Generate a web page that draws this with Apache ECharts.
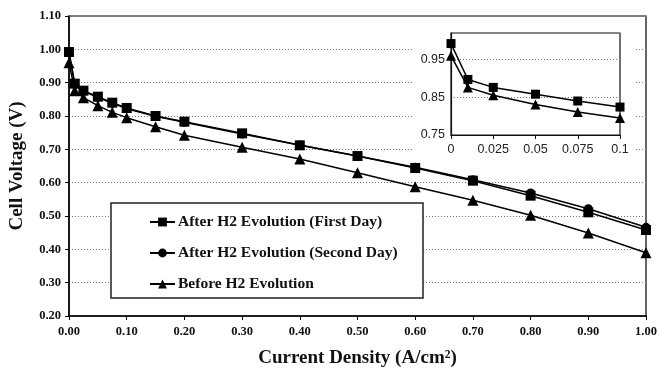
<!DOCTYPE html>
<html>
<head>
<meta charset="utf-8">
<script src="https://cdn.jsdelivr.net/npm/echarts@6/dist/echarts.min.js"></script>
<style>html,body{margin:0;padding:0;background:#fff}#c{width:661px;height:373px}</style>
</head>
<body>
<div id="c"></div>
<script>
var currentDensity = [0, 0.01, 0.025, 0.05, 0.075, 0.1, 0.15, 0.2, 0.3, 0.4, 0.5, 0.6, 0.7, 0.8, 0.9, 1.0];
var firstDay  = [0.992, 0.897, 0.876, 0.858, 0.840, 0.824, 0.800, 0.783, 0.748, 0.712, 0.680, 0.644, 0.606, 0.561, 0.511, 0.458];
var secondDay = [0.990, 0.894, 0.874, 0.856, 0.838, 0.822, 0.799, 0.781, 0.746, 0.713, 0.680, 0.646, 0.609, 0.569, 0.522, 0.466];
var beforeH2  = [0.960, 0.876, 0.855, 0.831, 0.811, 0.795, 0.768, 0.742, 0.706, 0.671, 0.630, 0.588, 0.547, 0.502, 0.449, 0.390];
var insetCount = 6; // inset shows 0 .. 0.1
var names = ['After H2 Evolution (First Day)', 'After H2 Evolution (Second Day)', 'Before H2 Evolution'];

function pairs(xs, ys, n) {
  var out = [];
  for (var i = 0; i < (n || xs.length); i++) out.push([xs[i], ys[i]]);
  return out;
}
var serif = '"Liberation Serif", "Times New Roman", serif';
var sans = '"Liberation Sans", Arial, sans-serif';

var chart = echarts.init(document.getElementById('c'));
chart.setOption({
  animation: false,
  backgroundColor: '#fff',
  grid: [
    {left: 69, right: 15, top: 16, bottom: 53, show: true, borderColor: '#000', borderWidth: 1.2, z: 0},
    {left: 451, right: 41, top: 33, bottom: 238, show: true, borderColor: '#111', borderWidth: 1.2, backgroundColor: 'transparent', z: 3}
  ],
  graphic: [
    {type: 'rect', z: 1, shape: {x: 412, y: 18, width: 224, height: 144}, style: {fill: '#fff', stroke: null}},
    {type: 'rect', z: 50, shape: {x: 111, y: 203, width: 312, height: 95}, style: {fill: '#fff', stroke: '#222', lineWidth: 1.5}}
  ],
  legend: {
    z: 60,
    left: 144, top: 209,
    orient: 'vertical',
    itemGap: 15,
    itemWidth: 25, itemHeight: 11,
    data: names,
    textStyle: {fontFamily: serif, fontWeight: 'bold', fontSize: 15.5, color: '#111', padding: [0, 0, 0, -2]},
    selectedMode: false
  },
  xAxis: [
    {
      type: 'value', gridIndex: 0, min: 0, max: 1, interval: 0.1,
      name: 'Current Density (A/cm²)', nameLocation: 'middle', nameGap: 33,
      nameTextStyle: {fontFamily: serif, fontWeight: 'bold', fontSize: 19, color: '#111'},
      axisLine: {lineStyle: {color: '#000', width: 1.5}},
      axisTick: {show: true, inside: false, length: 4, lineStyle: {color: '#000'}},
      axisLabel: {fontFamily: serif, fontWeight: 'bold', fontSize: 12.5, color: '#111', margin: 9,
        formatter: function (v) { return v.toFixed(2); }},
      splitLine: {show: false}
    },
    {
      type: 'value', gridIndex: 1, min: 0, max: 0.1, interval: 0.025, z: 3,
      axisLine: {lineStyle: {color: '#111', width: 1.2}},
      axisTick: {show: true, inside: false, length: 4, lineStyle: {color: '#111'}},
      axisLabel: {fontFamily: sans, fontSize: 12.5, color: '#222', margin: 8,
        formatter: function (v) { return v === 0 ? '0' : String(+v.toFixed(3)); }},
      splitLine: {show: false}
    }
  ],
  yAxis: [
    {
      type: 'value', gridIndex: 0, min: 0.2, max: 1.1, interval: 0.1,
      name: 'Cell Voltage (V)', nameLocation: 'middle', nameGap: 42, nameRotate: 90,
      nameTextStyle: {fontFamily: serif, fontWeight: 'bold', fontSize: 19, color: '#111'},
      axisLine: {show: true, lineStyle: {color: '#000', width: 1.5}},
      axisTick: {show: true, inside: false, length: 4, lineStyle: {color: '#000'}},
      axisLabel: {fontFamily: serif, fontWeight: 'bold', fontSize: 12.5, color: '#111', margin: 8,
        formatter: function (v) { return v.toFixed(2); }},
      splitLine: {show: true, lineStyle: {color: '#777', type: [1, 2], width: 1.2}}
    },
    {
      type: 'value', gridIndex: 1, min: 0.75, max: 1.02, interval: 0.1, z: 3,
      axisLine: {show: true, lineStyle: {color: '#111', width: 1.2}},
      axisTick: {show: false},
      axisLabel: {fontFamily: sans, fontSize: 12.5, color: '#222', margin: 6, showMaxLabel: false,
        formatter: function (v) { return v.toFixed(2); }},
      splitLine: {show: true, lineStyle: {color: '#777', type: [1, 2], width: 1.2}}
    }
  ],
  series: [
    {name: names[0], type: 'line', xAxisIndex: 0, yAxisIndex: 0, data: pairs(currentDensity, firstDay),
      symbol: 'rect', symbolSize: 10, clip: false, z: 4,
      lineStyle: {color: '#000', width: 1.5}, itemStyle: {color: '#000'}},
    {name: names[1], type: 'line', xAxisIndex: 0, yAxisIndex: 0, data: pairs(currentDensity, secondDay),
      symbol: 'circle', symbolSize: 9, clip: false, z: 3,
      lineStyle: {color: '#000', width: 1.5}, itemStyle: {color: '#000'}},
    {name: names[2], type: 'line', xAxisIndex: 0, yAxisIndex: 0, data: pairs(currentDensity, beforeH2),
      symbol: 'triangle', symbolSize: 11, clip: false, z: 3,
      lineStyle: {color: '#000', width: 1.5}, itemStyle: {color: '#000'}},
    {name: names[0], type: 'line', xAxisIndex: 1, yAxisIndex: 1, data: pairs(currentDensity, firstDay, insetCount),
      symbol: 'rect', symbolSize: 9, clip: false, z: 6,
      lineStyle: {color: '#000', width: 1.5}, itemStyle: {color: '#000'}},
    {name: names[2], type: 'line', xAxisIndex: 1, yAxisIndex: 1, data: pairs(currentDensity, beforeH2, insetCount),
      symbol: 'triangle', symbolSize: 10, clip: false, z: 6,
      lineStyle: {color: '#000', width: 1.5}, itemStyle: {color: '#000'}}
  ]
});
</script>
</body>
</html>
